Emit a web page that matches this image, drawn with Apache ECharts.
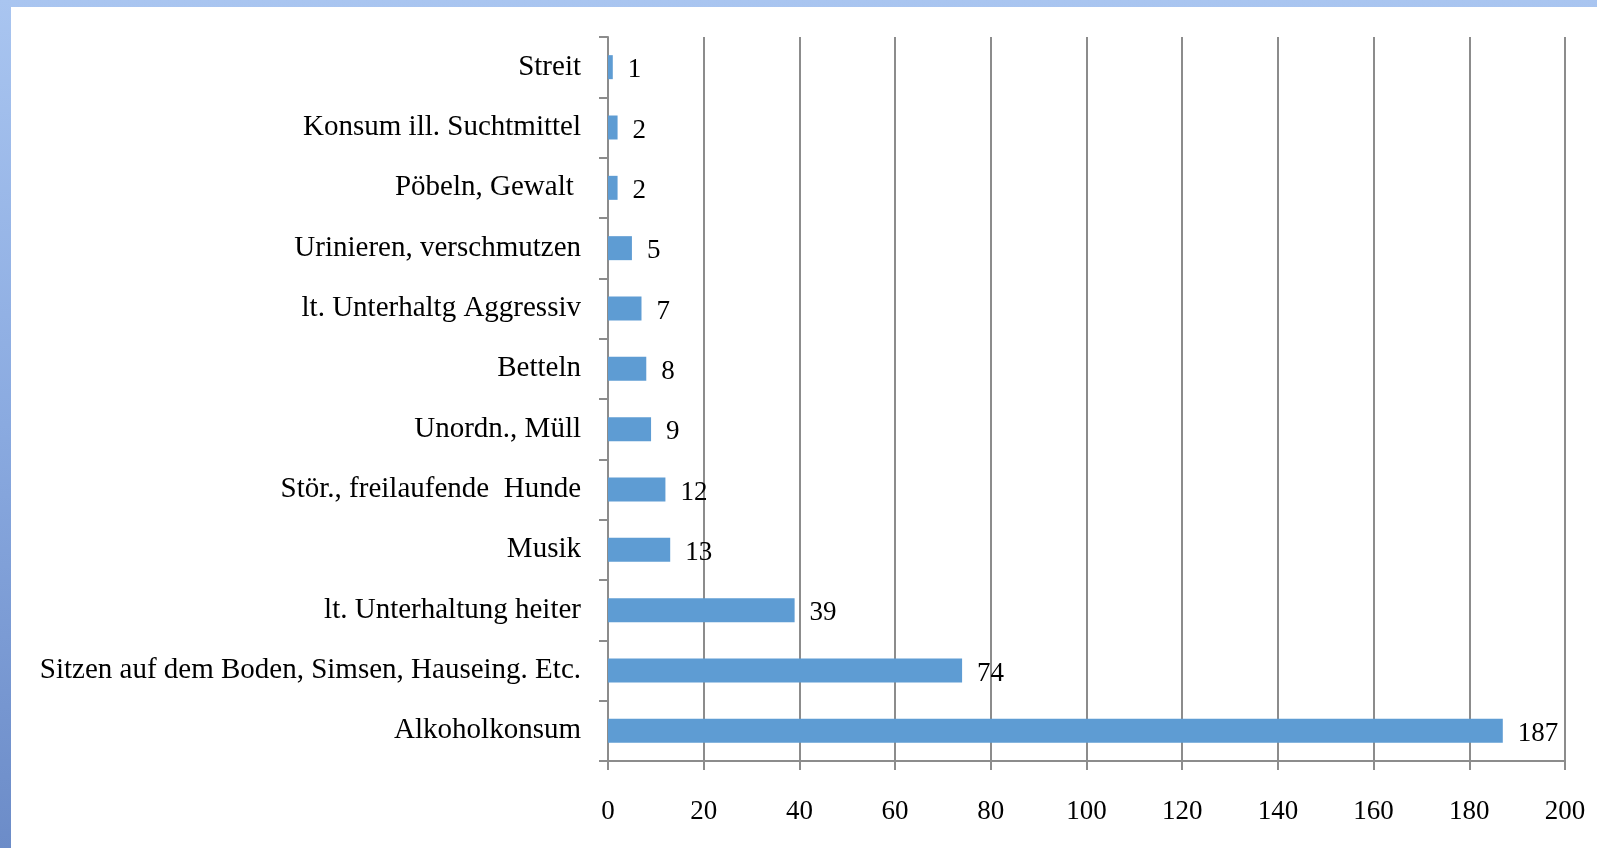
<!DOCTYPE html>
<html>
<head>
<meta charset="utf-8">
<script src="https://cdn.jsdelivr.net/npm/echarts@6/dist/echarts.min.js"></script>
<style>
  html, body { margin: 0; padding: 0; }
  .frame {
    position: relative;
    width: 1597px;
    height: 848px;
    background: linear-gradient(to bottom, #a9c5f0 0%, #8aaae0 50%, #6c8cc8 100%);
  }
  #chart {
    position: absolute;
    left: 11px;
    top: 7px;
    width: 1586px;
    height: 841px;
    background: #fff;
  }
</style>
</head>
<body>
<div class="frame"><div id="chart"></div></div>
<script>
// bottom to top, as ECharts draws a category y axis
const categories = [
  "Alkoholkonsum",
  "Sitzen auf dem Boden, Simsen, Hauseing. Etc.",
  "lt. Unterhaltung heiter",
  "Musik",
  "Stör., freilaufende  Hunde",
  "Unordn., Müll",
  "Betteln",
  "lt. Unterhaltg Aggressiv",
  "Urinieren, verschmutzen",
  "Pöbeln, Gewalt ",
  "Konsum ill. Suchtmittel",
  "Streit"
];
const counts = [187, 74, 39, 13, 12, 9, 8, 7, 5, 2, 2, 1];

const font = "'Liberation Serif', 'DejaVu Serif', serif";
const gray = "#8c8c8c";

const chart = echarts.init(document.getElementById("chart"));
chart.setOption({
  animation: false,
  backgroundColor: "#fff",
  grid: { left: 597, right: 32, top: 30, bottom: 87 },
  xAxis: {
    type: "value",
    min: 0,
    max: 200,
    interval: 20,
    axisLine: { show: true, lineStyle: { color: gray, width: 2 } },
    axisTick: { show: true, length: 9, lineStyle: { color: gray, width: 2 } },
    splitLine: { show: true, lineStyle: { color: gray, width: 2 } },
    axisLabel: { color: "#000", fontFamily: font, fontSize: 27, margin: 37 }
  },
  yAxis: {
    type: "category",
    data: categories,
    axisLine: { show: true, lineStyle: { color: gray, width: 2 } },
    axisTick: { show: true, length: 9, lineStyle: { color: gray, width: 2 } },
    axisLabel: {
      color: "#000",
      fontFamily: font,
      fontSize: 29,
      margin: 27,
      padding: [4, 0, 0, 0]
    }
  },
  series: [
    {
      type: "bar",
      data: counts,
      barWidth: 24,
      itemStyle: { color: "#5e9cd3" },
      label: {
        show: true,
        position: "right",
        distance: 15,
        color: "#000",
        fontFamily: font,
        fontSize: 27,
        offset: [0, 3]
      }
    }
  ]
});
</script>
</body>
</html>
